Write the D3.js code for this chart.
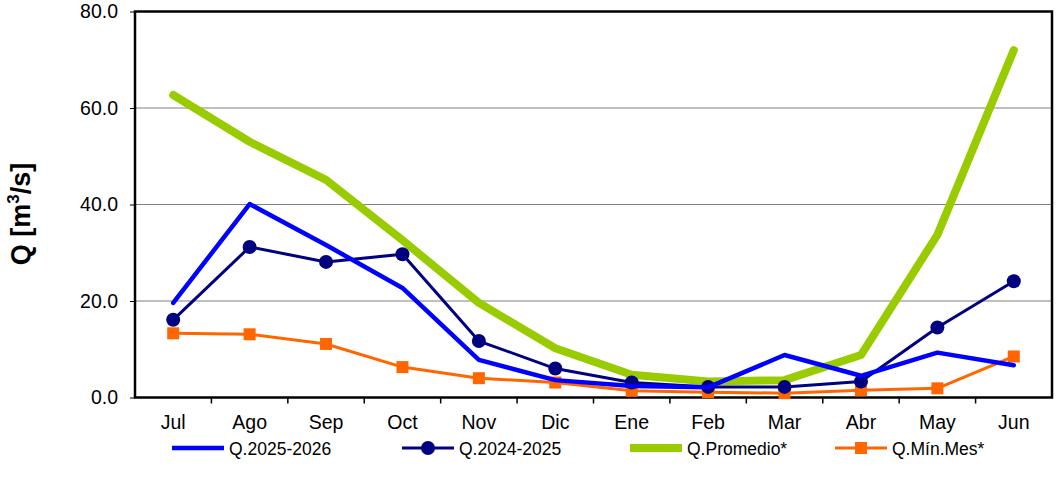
<!DOCTYPE html>
<html>
<head>
<meta charset="utf-8">
<script src="https://cdn.jsdelivr.net/npm/d3@7"></script>
<style>
  body { margin: 0; background: #fff; }
  svg { font-family: "Liberation Sans", Arial, sans-serif; }
</style>
</head>
<body>
<div class="chart"></div>
<script>
// data
const months = ["Jul", "Ago", "Sep", "Oct", "Nov", "Dic", "Ene", "Feb", "Mar", "Abr", "May", "Jun"];
const q2526 = [19.6, 40.1, 31.6, 22.7, 7.8, 3.6, 2.4, 2.1, 8.8, 4.5, 9.3, 6.7];
const q2425 = [16.1, 31.2, 28.1, 29.7, 11.7, 6.0, 3.1, 2.2, 2.2, 3.3, 14.5, 24.1];
const qProm = [62.7, 53.0, 45.1, 32.6, 19.6, 10.2, 4.7, 3.3, 3.6, 8.8, 33.7, 72.0];
const qMin  = [13.3, 13.1, 11.1, 6.3, 4.0, 3.1, 1.4, 1.1, 0.9, 1.5, 1.9, 8.5];
const yTicks = [0, 20, 40, 60, 80];

function init(){
    const w = 1057, h = 488;
    const m = {left: 135, right: 5, top: 11.5, bottom: 90.5};

    const svg = d3.select(".chart").append("svg").attr("width", w).attr("height", h);

    const x = d3.scaleBand().domain(months).range([m.left, w - m.right]);
    const y = d3.scaleLinear().domain([0, 80]).range([h - m.bottom, m.top]);
    const cx = d => x(d) + x.bandwidth() / 2;

    // gridlines
    svg.append("g")
      .selectAll("line")
      .data(yTicks.filter(t => t > 0 && t < 80))
      .join("line")
      .attr("x1", m.left).attr("x2", w - m.right)
      .attr("y1", d => y(d)).attr("y2", d => y(d))
      .attr("stroke", "#808080").attr("stroke-width", 1);

    // y axis
    const yAxis = svg.append("g")
      .attr("transform", `translate(${m.left},0)`)
      .call(d3.axisLeft(y).tickValues(yTicks).tickFormat(d3.format(".1f")).tickSize(5).tickPadding(12));
    yAxis.select(".domain").remove();
    yAxis.selectAll(".tick line").attr("stroke", "#000");
    yAxis.selectAll(".tick text").attr("font-size", 19.5).attr("fill", "#000")
      .attr("font-family", "Liberation Sans, Arial, sans-serif");

    // x axis: ticks between categories
    const xAxis = svg.append("g")
      .attr("transform", `translate(0,${y(0)})`)
      .call(d3.axisBottom(x).tickSize(0).tickPadding(18));
    xAxis.select(".domain").remove();
    xAxis.selectAll(".tick text").attr("font-size", 19.5).attr("fill", "#000")
      .attr("font-family", "Liberation Sans, Arial, sans-serif");
    svg.append("g")
      .selectAll("line")
      .data(months.slice(1))
      .join("line")
      .attr("x1", d => x(d)).attr("x2", d => x(d))
      .attr("y1", y(0)).attr("y2", y(0) + 6)
      .attr("stroke", "#000").attr("stroke-width", 1.5);

    // plot frame
    svg.append("rect")
      .attr("x", m.left).attr("y", m.top)
      .attr("width", w - m.right - m.left).attr("height", y(0) - m.top)
      .attr("fill", "none").attr("stroke", "#000").attr("stroke-width", 2.5);

    // y label
    const yl = svg.append("text")
      .attr("transform", `translate(30,214) rotate(-90)`)
      .attr("text-anchor", "middle")
      .attr("font-size", 27).attr("font-weight", "bold");
    yl.append("tspan").text("Q [m");
    yl.append("tspan").text("3").attr("font-size", 17).attr("dy", -11);
    yl.append("tspan").text("/s]").attr("dy", 11);

    const series = [
      {name: "Q.2025-2026", values: q2526, color: "#0000FF", width: 4.5, marker: null},
      {name: "Q.2024-2025", values: q2425, color: "#000080", width: 3, marker: "circle"},
      {name: "Q.Promedio*", values: qProm, color: "#99CC00", width: 8, marker: null},
      {name: "Q.Mín.Mes*", values: qMin, color: "#FF6600", width: 3, marker: "square"}
    ];

    const line = d3.line().x((d, i) => cx(months[i])).y(d => y(d));

    function drawMarker(g, type, color, px, py){
        if (type === "circle") {
            g.append("circle").attr("cx", px).attr("cy", py).attr("r", 7).attr("fill", color);
        } else if (type === "square") {
            g.append("rect").attr("x", px - 6).attr("y", py - 6).attr("width", 12).attr("height", 12).attr("fill", color);
        }
    }

    // order in drawing: min first, then promedio, then 2024-25, then 2025-26 on top
    const drawOrder = [3, 2, 1, 0];
    for (const k of drawOrder) {
        const s = series[k];
        const g = svg.append("g");
        g.append("path")
          .attr("d", line(s.values))
          .attr("fill", "none")
          .attr("stroke", s.color)
          .attr("stroke-width", s.width)
          .attr("stroke-linejoin", "round")
          .attr("stroke-linecap", "round");
        if (s.marker) s.values.forEach((v, i) => drawMarker(g, s.marker, s.color, cx(months[i]), y(v)));
    }

    // legend
    const legendX = [172, 402, 630, 835];
    const ly = 448;
    series.forEach((s, i) => {
        const g = svg.append("g");
        g.append("line")
          .attr("x1", legendX[i]).attr("x2", legendX[i] + 52)
          .attr("y1", ly).attr("y2", ly)
          .attr("stroke", s.color).attr("stroke-width", s.width);
        if (s.marker) drawMarker(g, s.marker, s.color, legendX[i] + 26, ly);
        g.append("text")
          .attr("x", legendX[i] + 57).attr("y", ly + 6.5)
          .attr("font-size", 17.5).attr("fill", "#000")
          .text(s.name);
    });
}
window.onload = init;
</script>
</body>
</html>
